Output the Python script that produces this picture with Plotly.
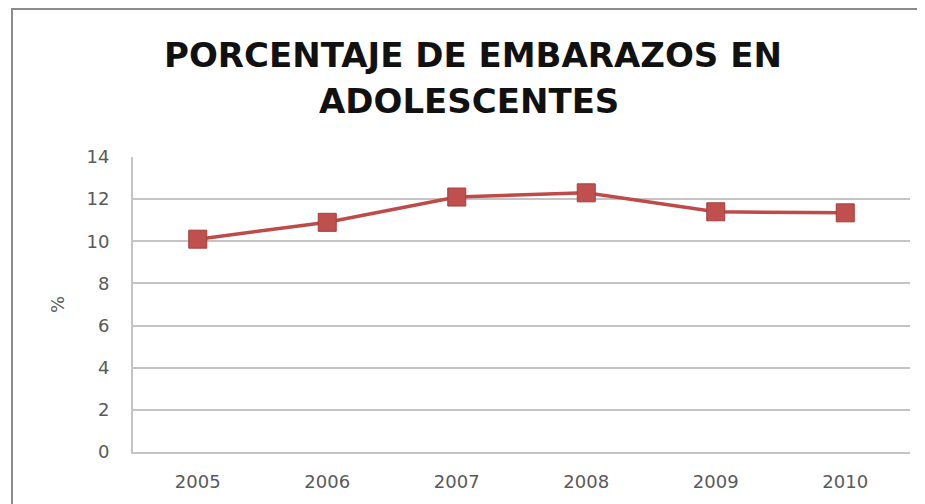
import plotly.graph_objects as go

years = ["2005", "2006", "2007", "2008", "2009", "2010"]
values = [10.1, 10.9, 12.1, 12.3, 11.4, 11.35]
title_line1 = "PORCENTAJE DE EMBARAZOS EN"
title_line2 = "ADOLESCENTES"
y_title = "%"
y_ticks = [0, 2, 4, 6, 8, 10, 12, 14]

# page body has an 8px margin, so the figure starts at (8, 8) of the window
OFF = 8
W, H = 925 - OFF, 504 - OFF
L, R, T, B = 133 - OFF, 925 - 910, 157 - OFF, 504 - 452
pw, ph = W - L - R, H - T - B

def px(x):  # window x -> paper x
    return (x - OFF - L) / pw

def py(y):  # window y -> paper y
    return (H - B - (y - OFF)) / ph

red = "#BE4B48"
grid = "#C4C4C4"
tickc = "#595959"

fig = go.Figure()
fig.add_trace(go.Scatter(
    x=years, y=values, mode="lines+markers",
    line=dict(color=red, width=3.5),
    marker=dict(symbol="square", size=18, color="#C0504D",
                line=dict(color="#A33E3B", width=1)),
    showlegend=False, cliponaxis=False,
))

fig.update_layout(
    width=W, height=H,
    margin=dict(l=L, r=R, t=T, b=B, autoexpand=False),
    paper_bgcolor="white", plot_bgcolor="white",
    font=dict(family="DejaVu Sans", color=tickc),
    xaxis=dict(type="category", range=[-0.5, 5.5], showgrid=False,
               zeroline=False, showline=True, linecolor=grid, linewidth=2,
               automargin=False,
               ticks="", tickfont=dict(size=18, color=tickc), ticklabelstandoff=12),
    yaxis=dict(range=[0, 14], tickvals=y_ticks, showgrid=True,
               gridcolor=grid, gridwidth=2, zeroline=True,
               zerolinecolor=grid, zerolinewidth=2, automargin=False,
               showline=True, linecolor=grid, linewidth=2, ticks="",
               tickfont=dict(size=18, color=tickc), ticklabelstandoff=18,
               title=dict(text=y_title, font=dict(size=18, color=tickc), standoff=17)),
)

fig.add_annotation(text=title_line1, xref="paper", yref="paper",
                   x=px(473), y=py(55), xanchor="center", yanchor="middle",
                   showarrow=False,
                   font=dict(family="DejaVu Sans", size=34, color="#111111", weight="bold"))
fig.add_annotation(text=title_line2, xref="paper", yref="paper",
                   x=px(469), y=py(101), xanchor="center", yanchor="middle",
                   showarrow=False,
                   font=dict(family="DejaVu Sans", size=34, color="#111111", weight="bold"))

# outer chart frame
fig.add_shape(type="rect", xref="paper", yref="paper",
              x0=px(12), x1=px(923), y0=py(530), y1=py(9),
              line=dict(color="#8C8C8C", width=2), layer="below")

fig.write_html("out.html")
